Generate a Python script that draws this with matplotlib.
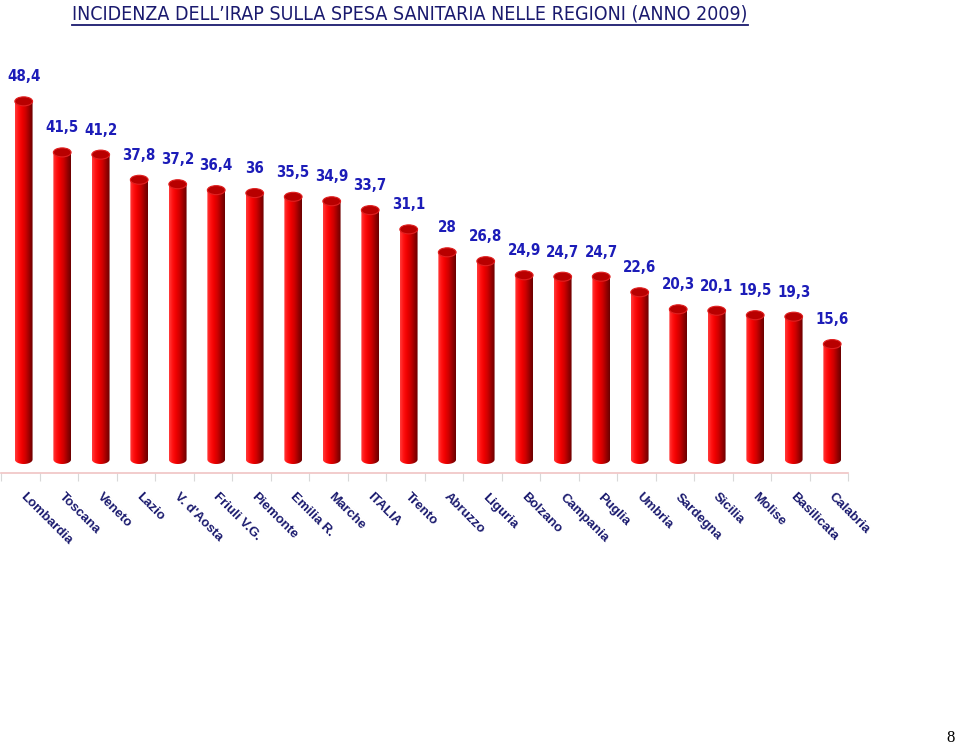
import numpy as np
import matplotlib
matplotlib.use("Agg")
import matplotlib.pyplot as plt
from matplotlib.patches import Ellipse, PathPatch
from matplotlib.path import Path
from matplotlib.colors import LinearSegmentedColormap

regions = ["Lombardia", "Toscana", "Veneto", "Lazio", "V. d'Aosta", "Friuli V.G.",
           "Piemonte", "Emilia R.", "Marche", "ITALIA", "Trento", "Abruzzo",
           "Liguria", "Bolzano", "Campania", "Puglia", "Umbria", "Sardegna",
           "Sicilia", "Molise", "Basilicata", "Calabria"]
values = [48.4, 41.5, 41.2, 37.8, 37.2, 36.4, 36.0, 35.5, 34.9, 33.7, 31.1, 28.0,
          26.8, 24.9, 24.7, 24.7, 22.6, 20.3, 20.1, 19.5, 19.3, 15.6]
value_labels = ["48,4", "41,5", "41,2", "37,8", "37,2", "36,4", "36", "35,5", "34,9",
                "33,7", "31,1", "28", "26,8", "24,9", "24,7", "24,7", "22,6", "20,3",
                "20,1", "19,5", "19,3", "15,6"]
title = "INCIDENZA DELL\u2019IRAP SULLA SPESA SANITARIA NELLE REGIONI (ANNO 2009)"

W, H = 959, 747
fig = plt.figure(figsize=(W / 100, H / 100), dpi=100)
fig.patch.set_facecolor("white")

ax_left, ax_right, ax_bottom, ax_top = 1, 848, 473, 60
ax = fig.add_axes([ax_left / W, (H - ax_bottom) / H, (ax_right - ax_left) / W,
                   (ax_bottom - ax_top) / H])

px_per_unit = 7.4
zero_px = 459.5
ymin = -(ax_bottom - zero_px) / px_per_unit
ymax = (zero_px - ax_top) / px_per_unit

x = np.arange(len(values))
shift = 0.09   # 3D depth offset of the cylinders inside each category
bw = 0.46
eh = 9 / px_per_unit

cyl_cmap = LinearSegmentedColormap.from_list(
    "cyl", ["#ff3a3a", "#ff1010", "#ee0000", "#cc0000", "#9a0000", "#6a0000"])
grad = np.linspace(0, 1, 64).reshape(1, -1)

ax.bar(x + shift, values, width=bw, color="none", edgecolor="none", zorder=2)
for i, (xi, v) in enumerate(zip(x + shift, values)):
    x0, x1 = xi - bw / 2, xi + bw / 2
    t = np.linspace(np.pi, 2 * np.pi, 30)
    arc = np.column_stack([xi + bw / 2 * np.cos(t), eh / 2 * np.sin(t)])
    verts = np.vstack([[[x0, v]], [[x0, 0]], arc, [[x1, 0]], [[x1, v]], [[x0, v]]])
    codes = [Path.MOVETO] + [Path.LINETO] * (len(verts) - 2) + [Path.CLOSEPOLY]
    body = PathPatch(Path(verts, codes), facecolor="none", edgecolor="none",
                     transform=ax.transData)
    ax.add_patch(body)
    im = ax.imshow(grad, extent=[x0, x1, -eh, v], aspect="auto", cmap=cyl_cmap,
                   zorder=2, interpolation="bilinear")
    im.set_clip_path(body)
    cap = Ellipse((xi, v), bw, eh, facecolor="#b80000", edgecolor="#e02020",
                  linewidth=0.8, zorder=3)
    ax.add_patch(cap)
    ax.annotate(value_labels[i], (xi, v + eh / 2), xytext=(0, 9),
                textcoords="offset points", ha="center", va="bottom",
                fontsize=10.8, fontweight="bold", fontstretch="condensed",
                color="#1c1cb8", family=["DejaVu Sans"])

ax.set_xlim(-0.5, len(values) - 0.5)
ax.set_ylim(ymin, ymax)
for s in ["top", "right", "left"]:
    ax.spines[s].set_visible(False)
ax.spines["bottom"].set_color("#f0c4c4")
ax.spines["bottom"].set_linewidth(1.2)
ax.set_yticks([])
ax.set_xticks(np.arange(len(values) + 1) - 0.5)
ax.set_xticklabels([])
ax.tick_params(axis="x", length=6, color="#d8d8d8", width=0.8)
ax.patch.set_alpha(0)

for xi, name in zip(x + shift, regions):
    ax.annotate(name, (xi, 0), xycoords=("data", "axes fraction"),
                xytext=(2, -13), textcoords="offset points",
                ha="left", va="top", rotation=-45, rotation_mode="anchor",
                fontsize=9.5, fontweight="bold", color="#1a1a6e",
                family=["Liberation Sans", "DejaVu Sans"])

t = fig.text(410 / W, 1 - 14 / H, title, ha="center", va="center",
             fontsize=14, fontstretch="condensed", color="#1a1a6e",
             family=["DejaVu Sans"])
fig.canvas.draw()
bb = t.get_window_extent()
fig.add_artist(plt.Line2D([bb.x0 / W, bb.x1 / W], [(bb.y0 - 1) / H, (bb.y0 - 1) / H],
                          transform=fig.transFigure, color="#1a1a6e", linewidth=1.3))

fig.text(951 / W, 1 - 738 / H, "8", ha="center", va="center", fontsize=12,
         color="black", family=["Liberation Serif", "DejaVu Serif"])

fig.savefig("out.png", dpi=100, facecolor="white")
